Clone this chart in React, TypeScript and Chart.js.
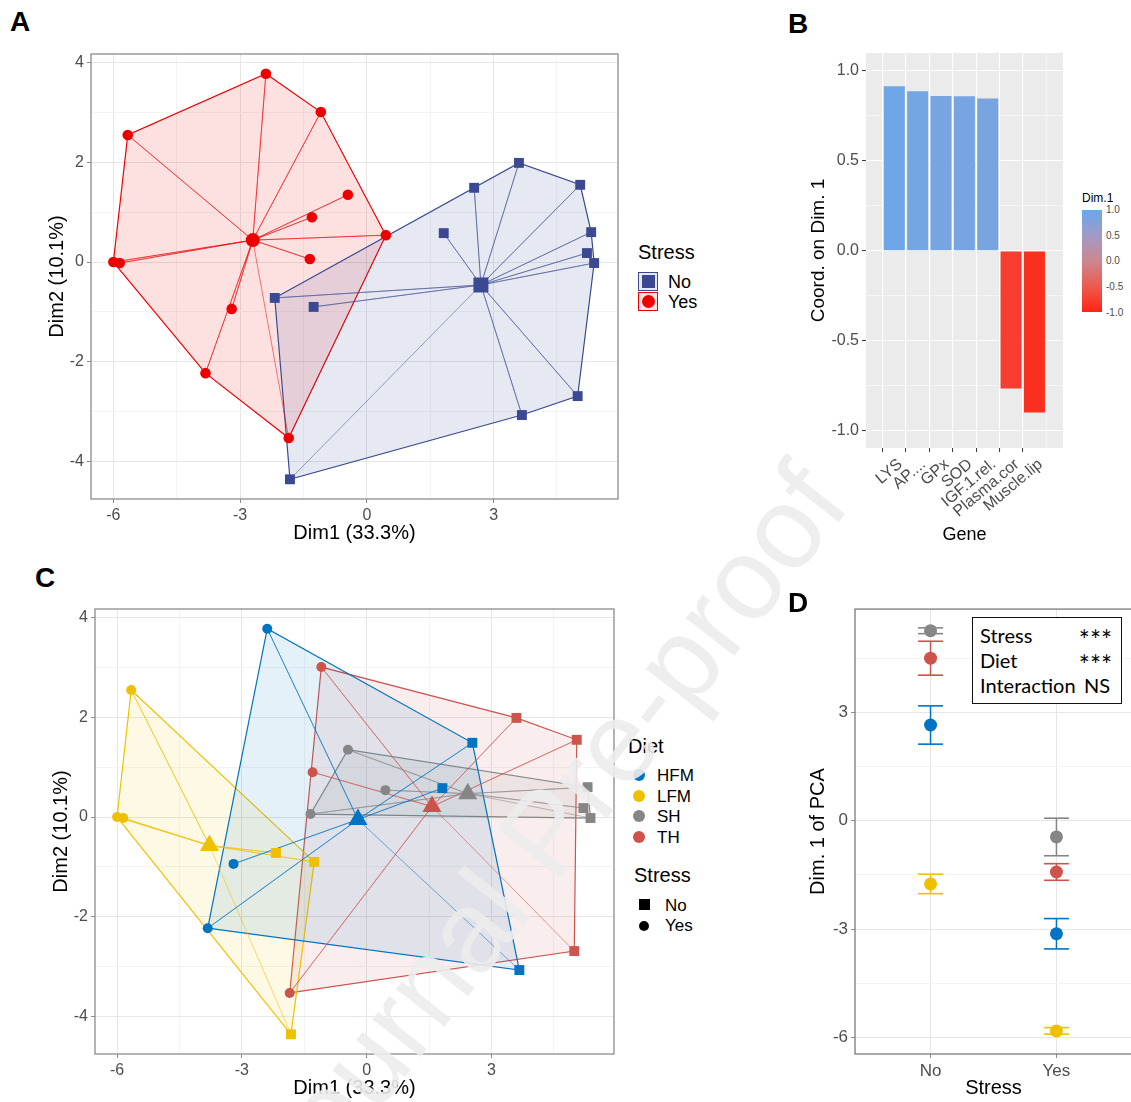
import React, { useEffect, useRef } from 'react';
import { Chart, registerables } from 'chart.js';

Chart.register(...registerables);

const SANS = "'Liberation Sans', Arial, Helvetica, sans-serif";
const CALI = "Lato, 'Open Sans', sans-serif";
Chart.defaults.font.family = SANS;

/* ======================= DATA ======================= */
// PCA individuals: Dim1, Dim2, stress level, diet
const indDim1 = [-2.39, -1.09, -5.66, -0.45, -1.3, -1.35, 0.45, -6.0, -5.85, -3.2, -3.82, -1.85,
  3.6, 2.54, 5.05, 1.82, 5.31, 5.21, 5.38, -2.18, -1.26, 3.67, 4.99, -1.82];
const indDim2 = [3.78, 3.01, 2.55, 1.35, 0.9, 0.06, 0.54, 0.0, -0.02, -0.94, -2.23, -3.53,
  1.99, 1.49, 1.55, 0.58, 0.6, 0.18, -0.02, -0.72, -0.9, -3.07, -2.69, -4.36];
const indStress = ['Yes', 'Yes', 'Yes', 'Yes', 'Yes', 'Yes', 'Yes', 'Yes', 'Yes', 'Yes', 'Yes', 'Yes',
  'No', 'No', 'No', 'No', 'No', 'No', 'No', 'No', 'No', 'No', 'No', 'No'];
const indDiet = ['HFM', 'TH', 'LFM', 'SH', 'TH', 'SH', 'SH', 'LFM', 'LFM', 'HFM', 'HFM', 'TH',
  'TH', 'HFM', 'TH', 'HFM', 'SH', 'SH', 'SH', 'LFM', 'LFM', 'HFM', 'TH', 'LFM'];

const stressLevels = ['No', 'Yes'];
const stressCentroidDim1 = [2.7, -2.7];
const stressCentroidDim2 = [-0.46, 0.44];

const dietLevels = ['HFM', 'LFM', 'SH', 'TH'];
const dietCentroidDim1 = [-0.21, -3.78, 2.43, 1.57];
const dietCentroidDim2 = [-0.05, -0.57, 0.47, 0.21];

const pcaXTicks = [-6, -4.5, -3, -1.5, 0, 1.5, 3, 4.5];
const pcaXMajor = [-6, -3, 0, 3];
const pcaYTicks = [-4, -3, -2, -1, 0, 1, 2, 3, 4];
const pcaYMajor = [-4, -2, 0, 2, 4];

// Panel B: coordinates of variables on Dim 1
const genes = ['LYS', 'AP....', 'GPx', 'SOD', 'IGF.1.rel.', 'Plasma.cor', 'Muscle.lip'];
const geneCoord = [0.915, 0.887, 0.861, 0.859, 0.847, -0.765, -0.898];
const geneYTicks = [-1, -0.75, -0.5, -0.25, 0, 0.25, 0.5, 0.75, 1];
const geneYMajor = [-1, -0.5, 0, 0.5, 1];
const colorbarTicks = [1, 0.5, 0, -0.5, -1];

// Panel D: mean Dim.1 (+/- error) by stress and diet
const stressCats = ['No', 'Yes'];
const dimMeanNo = [2.65, -1.75, 5.26, 4.5];
const dimErrNo = [0.53, 0.27, 0.08, 0.47];
const dimMeanYes = [-3.13, -5.82, -0.45, -1.42];
const dimErrYes = [0.42, 0.09, 0.52, 0.23];
const dimYTicks = [-6, -4.5, -3, -1.5, 0, 1.5, 3, 4.5];
const dimYMajor = [-6, -3, 0, 3];

const anovaTerms = ['Stress', 'Diet', 'Interaction'];
const anovaSig = ['***', '***', 'NS'];

/* ======================= STYLE ======================= */
const stressColors = ['#3B4992', '#EE0000'];
const dietColors = ['#0073C2', '#EFC000', '#868686', '#CD534C'];
const cbStops = [-1, -0.5, 0, 0.5, 1];
const cbColors = ['#FF2414', '#EC5A4E', '#CC8790', '#A29AC6', '#65A9EC'];

function hexRgb(h: string) {
  const n = parseInt(h.slice(1), 16);
  return [(n >> 16) & 255, (n >> 8) & 255, n & 255];
}
function rgba(h: string, a: number) {
  const [r, g, b] = hexRgb(h);
  return `rgba(${r},${g},${b},${a})`;
}
function scaleColor(v: number) {
  let k = 0;
  while (k < cbStops.length - 2 && v > cbStops[k + 1]) k++;
  const t = Math.max(0, Math.min(1, (v - cbStops[k]) / (cbStops[k + 1] - cbStops[k])));
  const a = hexRgb(cbColors[k]);
  const b = hexRgb(cbColors[k + 1]);
  const c = a.map((x, i) => Math.round(x + (b[i] - x) * t));
  return `rgb(${c[0]},${c[1]},${c[2]})`;
}

type Pt = { x: number; y: number };
function convexHull(points: Pt[]): Pt[] {
  const p = points.slice().sort((a, b) => a.x - b.x || a.y - b.y);
  const cross = (o: Pt, a: Pt, b: Pt) => (a.x - o.x) * (b.y - o.y) - (a.y - o.y) * (b.x - o.x);
  const lower: Pt[] = [];
  for (const q of p) {
    while (lower.length >= 2 && cross(lower[lower.length - 2], lower[lower.length - 1], q) <= 0) lower.pop();
    lower.push(q);
  }
  const upper: Pt[] = [];
  for (const q of p.slice().reverse()) {
    while (upper.length >= 2 && cross(upper[upper.length - 2], upper[upper.length - 1], q) <= 0) upper.pop();
    upper.push(q);
  }
  lower.pop();
  upper.pop();
  const h = lower.concat(upper);
  return h.concat([h[0]]);
}

const fmtNum = (v: number, dec?: number) => {
  const s = dec === undefined ? String(Math.abs(v)) : Math.abs(v).toFixed(dec);
  return (v < 0 ? '-' : '') + s;
};

function axis(o: any) {
  const isMajor = (v: number) => o.major.some((m: number) => Math.abs(m - v) < 1e-9);
  const tv = (c: any) => (c && c.tick ? c.tick.value : NaN);
  return {
    type: 'linear',
    min: o.min,
    max: o.max,
    afterBuildTicks: (ax: any) => {
      ax.ticks = o.ticks.map((v: number) => ({ value: v }));
    },
    afterFit: (ax: any) => {
      if (o.horizontal) ax.height = o.size;
      else ax.width = o.size;
    },
    ticks: {
      autoSkip: false,
      maxRotation: o.rotation || 0,
      minRotation: o.rotation || 0,
      padding: 3,
      labelOffset: o.labelOffset || 0,
      color: '#4D4D4D',
      font: { family: SANS, size: o.tickSize },
      callback: (v: number) => (isMajor(v) ? o.label(v) : ''),
    },
    grid: {
      color: (c: any) => (isMajor(tv(c)) ? o.gridMajor : o.gridMinor),
      lineWidth: (c: any) => (isMajor(tv(c)) ? o.gridMajorW : o.gridMinorW),
      drawTicks: true,
      tickLength: 4,
      tickWidth: 1,
      tickColor: (c: any) => (isMajor(tv(c)) ? o.tickColor : 'rgba(0,0,0,0)'),
    },
    border: { display: false },
    title: {
      display: true,
      text: o.title,
      color: '#000',
      font: { family: SANS, size: o.titleSize },
      padding: o.horizontal ? { top: 0, bottom: o.titlePad } : { top: o.titlePad, bottom: 0 },
    },
  };
}

const framePlugin = {
  id: 'frame',
  afterDatasetsDraw(chart: any, _a: any, opts: any) {
    if (!opts || !opts.color) return;
    const { ctx, chartArea: a } = chart;
    ctx.save();
    ctx.strokeStyle = opts.color;
    ctx.lineWidth = opts.width;
    ctx.strokeRect(a.left, a.top, a.right - a.left, a.bottom - a.top);
    ctx.restore();
  },
};
const panelBgPlugin = {
  id: 'panelBg',
  beforeDraw(chart: any, _a: any, opts: any) {
    if (!opts || !opts.color) return;
    const { ctx, chartArea: a } = chart;
    ctx.save();
    ctx.fillStyle = opts.color;
    ctx.fillRect(a.left, a.top, a.right - a.left, a.bottom - a.top);
    ctx.restore();
  },
};

function pcaDatasets(o: {
  groupOf: (i: number) => number;
  colors: string[];
  cx: number[];
  cy: number[];
  centroidStyle: (g: number) => string;
  centroidRadius: (g: number) => number;
  rectR: number;
  circleR: number;
  fillAlpha: number;
  spokeAlpha: number;
}) {
  const pts: any[] = [];
  const cents: any[] = [];
  const spokes: any[] = [];
  const hulls: any[] = [];
  o.colors.forEach((color, g) => {
    const members: number[] = [];
    indDim1.forEach((_v, i) => {
      if (o.groupOf(i) === g) members.push(i);
    });
    stressLevels.forEach((s) => {
      const sel = members.filter((i) => indStress[i] === s);
      if (!sel.length) return;
      const isNo = s === 'No';
      pts.push({
        data: sel.map((i) => ({ x: indDim1[i], y: indDim2[i] })),
        pointStyle: isNo ? 'rect' : 'circle',
        pointRadius: isNo ? o.rectR : o.circleR,
        backgroundColor: color,
        borderColor: color,
        pointBorderWidth: 0,
      });
    });
    const c = { x: o.cx[g], y: o.cy[g] };
    cents.push({
      data: [c],
      pointStyle: o.centroidStyle(g),
      pointRadius: o.centroidRadius(g),
      backgroundColor: color,
      borderColor: color,
      pointBorderWidth: 0,
    });
    const spoke: Pt[] = [];
    members.forEach((i) => {
      spoke.push(c, { x: indDim1[i], y: indDim2[i] });
    });
    spokes.push({
      data: spoke,
      showLine: true,
      pointRadius: 0,
      borderColor: rgba(color, o.spokeAlpha),
      borderWidth: 1,
    });
    hulls.push({
      data: convexHull(members.map((i) => ({ x: indDim1[i], y: indDim2[i] }))),
      showLine: true,
      fill: 'shape',
      pointRadius: 0,
      backgroundColor: rgba(color, o.fillAlpha),
      borderColor: color,
      borderWidth: 1.2,
    });
  });
  return [...pts, ...cents, ...spokes, ...hulls];
}

function pcaConfig(o: any) {
  return {
    type: 'scatter',
    data: { datasets: o.datasets },
    options: {
      responsive: false,
      animation: false,
      events: [],
      layout: { padding: { top: o.padTop, right: o.padRight, left: 0, bottom: 0 } },
      plugins: {
        legend: { display: false },
        tooltip: { enabled: false },
        frame: { color: '#8C8C8C', width: 1.3 },
      },
      scales: {
        x: axis({
          min: -6.53, max: 5.945, ticks: pcaXTicks, major: pcaXMajor, label: (v: number) => fmtNum(v),
          horizontal: true, size: o.xSize, tickSize: 16, title: 'Dim1 (33.3%)', titleSize: 20, titlePad: o.xTitlePad,
          gridMajor: '#E6E6E6', gridMinor: '#F3F3F3', gridMajorW: 1, gridMinorW: 1, tickColor: '#8C8C8C',
        }),
        y: axis({
          min: -4.755, max: 4.175, ticks: pcaYTicks, major: pcaYMajor, label: (v: number) => fmtNum(v),
          horizontal: false, size: o.ySize, tickSize: 16, title: 'Dim2 (10.1%)', titleSize: 20, titlePad: o.yTitlePad,
          gridMajor: '#E6E6E6', gridMinor: '#F3F3F3', gridMajorW: 1, gridMinorW: 1, tickColor: '#8C8C8C',
        }),
      },
    },
    plugins: [framePlugin],
  };
}

function makeA() {
  return pcaConfig({
    datasets: pcaDatasets({
      groupOf: (i) => stressLevels.indexOf(indStress[i]),
      colors: stressColors,
      cx: stressCentroidDim1,
      cy: stressCentroidDim2,
      centroidStyle: (g) => (stressLevels[g] === 'No' ? 'rect' : 'circle'),
      centroidRadius: (g) => (stressLevels[g] === 'No' ? 10.6 : 7),
      rectR: 7,
      circleR: 5.3,
      fillAlpha: 0.12,
      spokeAlpha: 0.5,
    }),
    padTop: 14, padRight: 12, xSize: 56, ySize: 71, xTitlePad: 10, yTitlePad: 25,
  });
}

function makeC() {
  return pcaConfig({
    datasets: pcaDatasets({
      groupOf: (i) => dietLevels.indexOf(indDiet[i]),
      colors: dietColors,
      cx: dietCentroidDim1,
      cy: dietCentroidDim2,
      centroidStyle: () => 'triangle',
      centroidRadius: () => 11,
      rectR: 7,
      circleR: 5,
      fillAlpha: 0.1,
      spokeAlpha: 0.55,
    }),
    padTop: 14, padRight: 12, xSize: 51, ySize: 75, xTitlePad: 5, yTitlePad: 29,
  });
}

function makeB() {
  return {
    type: 'bar',
    data: {
      datasets: [
        {
          data: geneCoord.map((v, i) => ({ x: i, y: v })),
          backgroundColor: geneCoord.map((v) => scaleColor(v)),
          barPercentage: 0.9,
          categoryPercentage: 1,
        },
      ],
    },
    options: {
      responsive: false,
      animation: false,
      events: [],
      layout: { padding: { top: 13, right: 12, left: 0, bottom: 0 } },
      plugins: {
        legend: { display: false },
        tooltip: { enabled: false },
        panelBg: { color: '#EBEBEB' },
      },
      scales: {
        x: axis({
          min: -0.61, max: 6.62, ticks: genes.map((_g, i) => i), major: genes.map((_g, i) => i),
          label: (v: number) => genes[v], rotation: 40, labelOffset: 6,
          horizontal: true, size: 112, tickSize: 16, title: 'Gene', titleSize: 18, titlePad: 14,
          gridMajor: '#FFFFFF', gridMinor: '#FFFFFF', gridMajorW: 1.1, gridMinorW: 0.5, tickColor: '#333333',
        }),
        y: axis({
          min: -1.096, max: 1.1, ticks: geneYTicks, major: geneYMajor, label: (v: number) => fmtNum(v, 1),
          horizontal: false, size: 66, tickSize: 16, title: 'Coord. on Dim. 1', titleSize: 19, titlePad: 7,
          gridMajor: '#FFFFFF', gridMinor: '#FFFFFF', gridMajorW: 1.1, gridMinorW: 0.5, tickColor: '#333333',
        }),
      },
    },
    plugins: [panelBgPlugin],
  };
}

function makeD() {
  const pts: any[] = [];
  const bars: any[] = [];
  dietLevels.forEach((_d, g) => {
    const color = dietColors[g];
    pts.push({
      data: [
        { x: 0, y: dimMeanNo[g] },
        { x: 1, y: dimMeanYes[g] },
      ],
      pointStyle: 'circle',
      pointRadius: 6.5,
      backgroundColor: color,
      borderColor: color,
      pointBorderWidth: 0,
    });
    [
      [0, dimMeanNo[g], dimErrNo[g]],
      [1, dimMeanYes[g], dimErrYes[g]],
    ].forEach(([x, m, e]) => {
      bars.push({
        data: [
          { x, y: m - e },
          { x, y: m + e },
        ],
        showLine: true,
        pointStyle: 'line',
        pointRadius: 12.5,
        pointBorderWidth: 1.6,
        borderColor: color,
        borderWidth: 1.5,
      });
    });
  });
  return {
    type: 'scatter',
    data: { datasets: [...pts, ...bars] },
    options: {
      responsive: false,
      animation: false,
      events: [],
      layout: { padding: { top: 14, right: 18, left: 0, bottom: 0 } },
      plugins: {
        legend: { display: false },
        tooltip: { enabled: false },
        frame: { color: '#7A7A7A', width: 1.3 },
      },
      scales: {
        x: axis({
          min: -0.6, max: 1.6, ticks: [0, 1], major: [0, 1], label: (v: number) => stressCats[v],
          horizontal: true, size: 51, tickSize: 17, title: 'Stress', titleSize: 20, titlePad: 5,
          gridMajor: '#E6E6E6', gridMinor: '#F3F3F3', gridMajorW: 1, gridMinorW: 1, tickColor: '#8C8C8C',
        }),
        y: axis({
          min: -6.46, max: 5.86, ticks: dimYTicks, major: dimYMajor, label: (v: number) => fmtNum(v),
          horizontal: false, size: 65, tickSize: 17, title: 'Dim. 1 of PCA', titleSize: 20, titlePad: 16,
          gridMajor: '#E6E6E6', gridMinor: '#F3F3F3', gridMajorW: 1, gridMinorW: 1, tickColor: '#8C8C8C',
        }),
      },
    },
    plugins: [framePlugin],
  };
}

/* ======================= COMPONENTS ======================= */
function ChartBox(p: { left: number; top: number; width: number; height: number; make: () => any }) {
  const ref = useRef<HTMLCanvasElement>(null);
  useEffect(() => {
    const chart = new Chart(ref.current as HTMLCanvasElement, p.make());
    return () => chart.destroy();
  }, []);
  return (
    <canvas
      ref={ref}
      width={p.width}
      height={p.height}
      style={{ position: 'absolute', left: p.left, top: p.top, width: p.width, height: p.height }}
    />
  );
}

function T(p: { x: number; b: number; s: number; children: any; w?: number; f?: string; c?: string; end?: boolean }) {
  const f = p.f || SANS;
  const asc = f === SANS ? 0.8465 : 0.887;
  const st: any = {
    position: 'absolute',
    top: p.b - asc * p.s,
    fontSize: p.s,
    lineHeight: `${p.s}px`,
    fontFamily: f,
    fontWeight: p.w || 400,
    color: p.c || '#000',
    whiteSpace: 'nowrap',
  };
  if (p.end) st.right = 1131 - p.x;
  else st.left = p.x;
  return <div style={st}>{p.children}</div>;
}

function Marker(p: { cx: number; cy: number; size: number; color: string; round?: boolean }) {
  return (
    <div
      style={{
        position: 'absolute',
        left: p.cx - p.size / 2,
        top: p.cy - p.size / 2,
        width: p.size,
        height: p.size,
        background: p.color,
        borderRadius: p.round ? '50%' : 0,
      }}
    />
  );
}

export default function App() {
  const cbGradient = `linear-gradient(to bottom, ${cbColors.slice().reverse().join(', ')})`;
  return (
    <div
      style={{
        position: 'absolute',
        left: 0,
        top: 0,
        width: 1131,
        height: 1102,
        overflow: 'hidden',
        background: '#FFFFFF',
        fontFamily: SANS,
      }}
    >
      <ChartBox left={20} top={40} width={610} height={515} make={makeA} />
      <ChartBox left={800} top={40} width={275} height={520} make={makeB} />
      <ChartBox left={20} top={595} width={606} height={510} make={makeC} />
      <ChartBox left={790} top={595} width={360} height={510} make={makeD} />

      {/* panel letters */}
      <T x={10} b={32} s={28} w={700}>A</T>
      <T x={788} b={33.5} s={28} w={700}>B</T>
      <T x={35} b={588} s={28} w={700}>C</T>
      <T x={788} b={613} s={28} w={700}>D</T>

      {/* legend A */}
      <T x={638} b={259.3} s={20}>Stress</T>
      {stressLevels.map((s, g) => (
        <React.Fragment key={s}>
          <div
            style={{
              position: 'absolute',
              left: 638,
              top: 272 + g * 20,
              width: 18,
              height: 17,
              border: `1px solid ${stressColors[g]}`,
              background: rgba(stressColors[g], 0.12),
            }}
          />
          <Marker cx={648} cy={281.5 + g * 20} size={13} color={stressColors[g]} round={s === 'Yes'} />
          <T x={668} b={288.3 + g * 20} s={18}>{s}</T>
        </React.Fragment>
      ))}

      {/* colour bar B */}
      <T x={1082} b={202} s={12}>Dim.1</T>
      <div style={{ position: 'absolute', left: 1082, top: 210, width: 20, height: 102, background: cbGradient }} />
      {colorbarTicks.map((v, k) => (
        <T key={v} x={1106} b={213.5 + k * 25.7} s={10} c="#4D4D4D">{fmtNum(v, 1)}</T>
      ))}

      {/* legend C */}
      <T x={628} b={752.7} s={20}>Diet</T>
      {dietLevels.map((d, g) => (
        <React.Fragment key={d}>
          <Marker cx={638.5} cy={775 + g * 20.6} size={12} color={dietColors[g]} round />
          <T x={657} b={781.5 + g * 20.6} s={17}>{d}</T>
        </React.Fragment>
      ))}
      <T x={634} b={882.3} s={20}>Stress</T>
      {stressLevels.map((s, g) => (
        <React.Fragment key={s}>
          <Marker cx={644} cy={904.5 + g * 21} size={s === 'No' ? 11 : 10} color="#000" round={s === 'Yes'} />
          <T x={665} b={911 + g * 20.7} s={17}>{s}</T>
        </React.Fragment>
      ))}

      {/* ANOVA box D */}
      <div
        style={{
          position: 'absolute',
          left: 972,
          top: 617,
          width: 148,
          height: 85,
          border: '1.5px solid #111',
          background: '#FFFFFF',
        }}
      />
      {anovaTerms.map((t, k) => (
        <React.Fragment key={t}>
          <T x={980} b={642.3 + k * 25} s={20} f={CALI}>{t}</T>
          {anovaSig[k] === '***' ? (
            <T x={1112} b={650 + k * 25} s={26} f={CALI} end>{anovaSig[k]}</T>
          ) : (
            <T x={1110} b={642.3 + k * 25} s={20} f={CALI} end>{anovaSig[k]}</T>
          )}
        </React.Fragment>
      ))}

      {/* watermark */}
      <div
        style={{
          position: 'absolute',
          left: 545,
          top: 833,
          transform: 'translate(-50%, -50%) rotate(-52deg)',
          fontSize: 116,
          lineHeight: 1,
          fontFamily: SANS,
          color: 'rgba(236,236,236,0.9)',
          whiteSpace: 'nowrap',
          pointerEvents: 'none',
        }}
      >
        Journal Pre-proof
      </div>
    </div>
  );
}
